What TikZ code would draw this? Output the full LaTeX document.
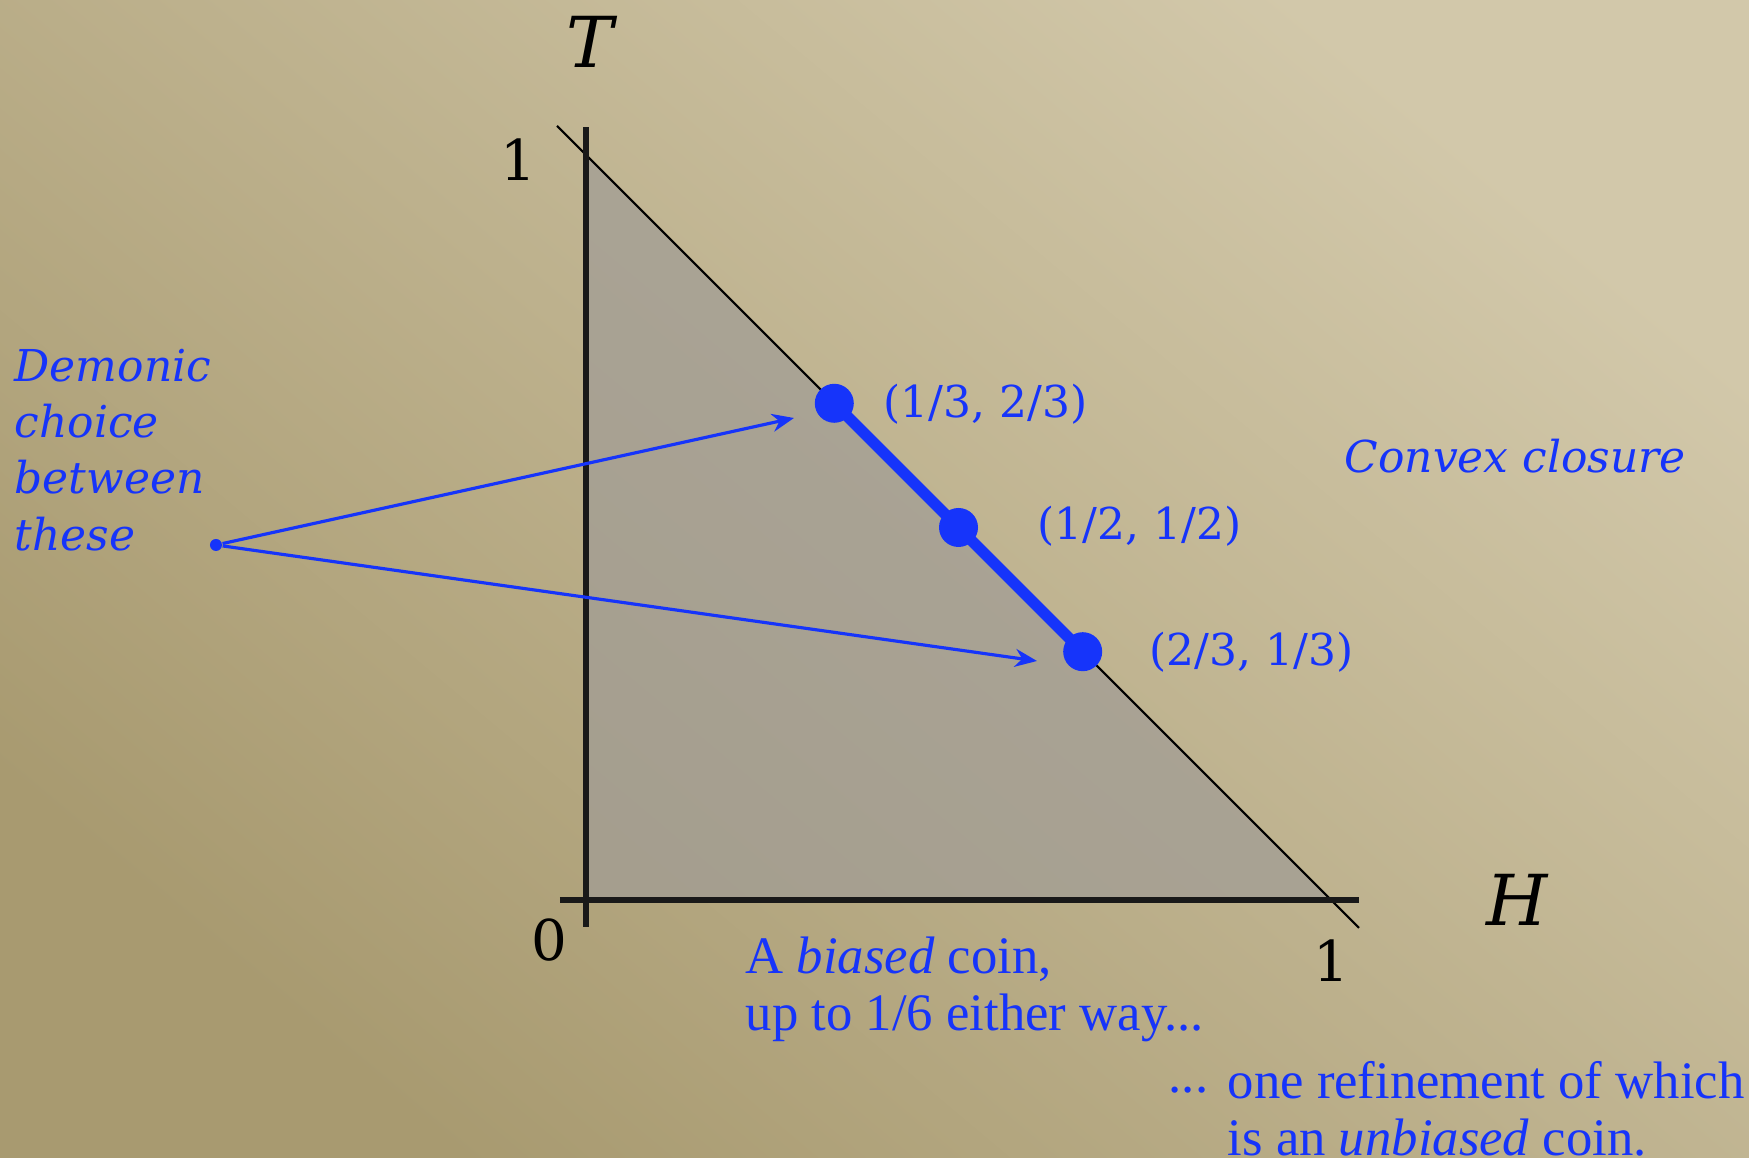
\documentclass[tikz,border=0pt]{standalone}
\usepackage{fontspec}
\setmainfont{DejaVu Serif}
\newfontfamily\narrowserif{Liberation Serif}
\usepackage{tikz}
\usetikzlibrary{arrows.meta,positioning,shadings}
\definecolor{paperlight}{RGB}{210,200,170}
\definecolor{paperdark}{RGB}{168,154,112}
\definecolor{simplexgray}{RGB}{160,156,150}
\definecolor{inkblue}{RGB}{22,52,250}
\tikzset{
  axis/.style={draw=black!90, line width=1.5pt},
  boundary/.style={draw=black, line width=0.6pt},
  coinpt/.style={circle, fill=inkblue, inner sep=0pt, minimum size=3.9mm},
  demonpt/.style={circle, fill=inkblue, inner sep=0pt, minimum size=1.2mm},
  segment/.style={draw=inkblue, line width=3.2pt},
  pointer/.style={-{Stealth[length=2.2mm, width=1.8mm]}, draw=inkblue, line width=0.9pt},
  ptlabel/.style={anchor=west, inner sep=0pt, text=inkblue, font=\fontsize{12.5}{15}\selectfont},
  remark/.style={anchor=west, inner sep=0pt, align=left, text=inkblue, font=\fontsize{12.5}{16}\selectfont\itshape},
  coinnote/.style={anchor=west, inner sep=0pt, align=left, text=inkblue, font=\narrowserif\fontsize{15}{16.2}\selectfont},
  axislabel/.style={inner sep=0pt, font=\fontsize{20}{24}\selectfont\itshape},
  ticklabel/.style={inner sep=0pt, font=\fontsize{16}{18}\selectfont}
}
\begin{document}
\begin{tikzpicture}
  % paper background
  \shade[left color=paperlight, right color=paperdark, shading angle=-40] (-5.86,-2.58) rectangle (11.63,9.00);
  \useasboundingbox (-5.86,-2.58) rectangle (11.63,9.00);

  % probability simplex
  \fill[simplexgray, fill opacity=0.7] (0,0) -- (7.45,0) -- (0,7.45) -- cycle;
  \draw[boundary] (-0.29,7.74) -- (7.73,-0.28);
  \draw[axis] (0,-0.27) -- (0,7.73);
  \draw[axis] (-0.26,0) -- (7.73,0);

  \node[axislabel] (tlab) at (0.04,8.58) {T};
  \node[axislabel] (hlab) at (9.31,0.0) {H};
  \node[ticklabel] (tone) at (-0.68,7.40) {1};
  \node[ticklabel] (zero) at (-0.37,-0.40) {0};
  \node[ticklabel] (hone) at (7.45,-0.61) {1};

  % the biased coins
  \coordinate (third) at (2.483,4.967);
  \coordinate (half) at (3.725,3.725);
  \coordinate (twothird) at (4.967,2.483);
  \draw[segment] (third) -- (twothird);
  \node[coinpt] (p1) at (third) {};
  \node[coinpt] (p2) at (half) {};
  \node[coinpt] (p3) at (twothird) {};
  \node[ptlabel] (l1) at (2.97,4.96) {(1/3, 2/3)};
  \node[ptlabel] (l2) at (4.51,3.74) {(1/2, 1/2)};
  \node[ptlabel] (l3) at (5.63,2.48) {(2/3, 1/3)};

  \node[remark] (convex) at (7.58,4.44) {Convex closure};

  % demonic choice
  \node[remark] (demonic) at (-5.72,4.50) {Demonic\\choice\\between\\these};
  \node[demonpt] (demon) at (-3.70,3.55) {};
  \coordinate (upper) at (2.08,4.82);
  \coordinate (lower) at (4.51,2.39);
  \draw[pointer] (demon) -- (upper);
  \draw[pointer] (demon) -- (lower);

  \node[coinnote] (biased) at (1.59,-0.89) {A \textit{biased} coin,\\up to 1/6 either way...};
  \node[coinnote] (refine) at (6.41,-2.09) {one refinement of which\\is an \textit{unbiased} coin.};
  \node[coinnote, anchor=base west] (dots) at (5.82,-1.93) {...};
\end{tikzpicture}
\end{document}
